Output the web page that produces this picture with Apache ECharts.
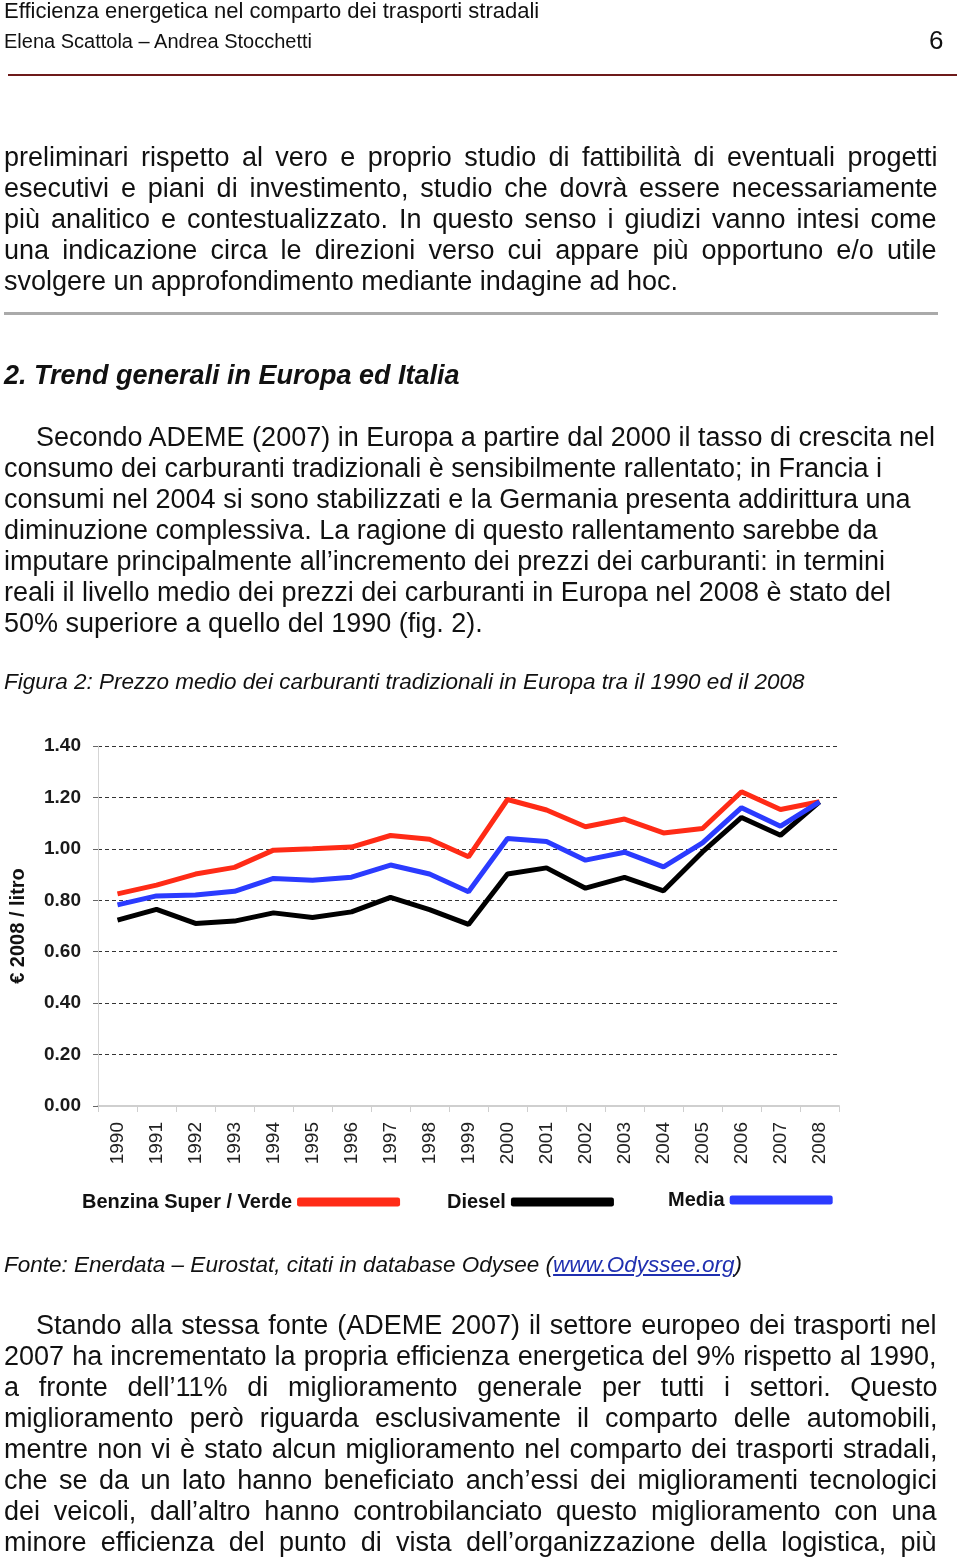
<!DOCTYPE html>
<html><head><meta charset="utf-8">
<script src="https://cdn.jsdelivr.net/npm/echarts/dist/echarts.min.js"></script>
<style>
html,body{margin:0;padding:0;background:#fff;}
#page{position:relative;width:960px;height:1560px;overflow:hidden;background:#fff;}
#chart{position:absolute;left:0;top:0;width:960px;height:1560px;z-index:1;}
.ln{position:absolute;white-space:pre;font-family:'Liberation Sans',Arial,sans-serif;color:#111;z-index:2;}
.rule{position:absolute;z-index:2;}
</style></head>
<body><div id="page"><div id="chart"></div></div>
<script>
// ---- chart data ----
const years = ['1990','1991','1992','1993','1994','1995','1996','1997','1998','1999','2000','2001','2002','2003','2004','2005','2006','2007','2008'];
const benzina = [0.825,0.859,0.902,0.928,0.995,1.000,1.007,1.052,1.037,0.969,1.192,1.151,1.086,1.116,1.062,1.079,1.222,1.153,1.183];
const diesel  = [0.723,0.765,0.710,0.719,0.751,0.733,0.755,0.811,0.764,0.706,0.902,0.926,0.847,0.889,0.837,0.988,1.122,1.053,1.183];
const media   = [0.782,0.817,0.821,0.835,0.885,0.878,0.890,0.937,0.902,0.833,1.040,1.029,0.956,0.987,0.930,1.023,1.160,1.088,1.183];
const seriesNames = ['Benzina Super / Verde','Diesel','Media'];
const yTicks = {min:0, max:1.4, interval:0.2};
const yAxisTitle = '€ 2008 / litro';

// ---- page text ----
const para1 = [
 'preliminari rispetto al vero e proprio studio di fattibilità di eventuali progetti',
 'esecutivi e piani di investimento, studio che dovrà essere necessariamente',
 'più analitico e contestualizzato. In questo senso i giudizi vanno intesi come',
 'una indicazione circa le direzioni verso cui appare più opportuno e/o utile',
 'svolgere un approfondimento mediante indagine ad hoc.'
];
const para2 = [
 'Secondo ADEME (2007) in Europa a partire dal 2000 il tasso di crescita nel',
 'consumo dei carburanti tradizionali è sensibilmente rallentato; in Francia i',
 'consumi nel 2004 si sono stabilizzati e la Germania presenta addirittura una',
 'diminuzione complessiva. La ragione di questo rallentamento sarebbe da',
 'imputare principalmente all’incremento dei prezzi dei carburanti: in termini',
 'reali il livello medio dei prezzi dei carburanti in Europa nel 2008 è stato del',
 '50% superiore a quello del 1990 (fig. 2).'
];
const para3 = [
 'Stando alla stessa fonte (ADEME 2007) il settore europeo dei trasporti nel',
 '2007 ha incrementato la propria efficienza energetica del 9% rispetto al 1990,',
 'a fronte dell’11% di miglioramento generale per tutti i settori. Questo',
 'miglioramento però riguarda esclusivamente il comparto delle automobili,',
 'mentre non vi è stato alcun miglioramento nel comparto dei trasporti stradali,',
 'che se da un lato hanno beneficiato anch’essi dei miglioramenti tecnologici',
 'dei veicoli, dall’altro hanno controbilanciato questo miglioramento con una',
 'minore efficienza del punto di vista dell’organizzazione della logistica, più'
];

const page = document.getElementById('page');
function addLine(html, x, baseline, size, o){
  o = o||{};
  const d = document.createElement('div');
  d.className='ln';
  d.innerHTML = html;
  d.style.left = x+'px';
  d.style.fontSize = size+'px';
  d.style.lineHeight = size+'px';
  d.style.top = (baseline - 0.8465*size)+'px';
  if(o.weight) d.style.fontWeight=o.weight;
  if(o.style) d.style.fontStyle=o.style;
  if(o.color) d.style.color=o.color;
  page.appendChild(d);
  if(o.justifyTo){
    const w = d.offsetWidth;
    const n = (d.textContent.match(/ /g)||[]).length;
    if(n>0){ d.style.wordSpacing = ((o.justifyTo - x - w)/n)+'px'; }
  }
  return d;
}
function addRule(x,y,w,h,c){
  const r=document.createElement('div');r.className='rule';
  r.style.cssText+=`left:${x}px;top:${y}px;width:${w}px;height:${h}px;background:${c};`;
  page.appendChild(r);
}
const BODY=27, LS=31;
addLine('Efficienza energetica nel comparto dei trasporti stradali',4,19,22);
addLine('Elena Scattola – Andrea Stocchetti',4,48,20);
addLine('6',929,49,26);
addRule(8,74,949,2,'#6e1a1a');

para1.forEach((t,i)=>addLine(t,4,167+i*LS,BODY,{justifyTo: i<para1.length-1?937:null}));
addRule(4,312,934,3,'#aaaaaa');
addLine('2. Trend generali in Europa ed Italia',4,385,BODY,{weight:'bold',style:'italic'});
para2.forEach((t,i)=>addLine(t,i===0?36:4,447+i*LS,BODY));
addLine('Figura 2: Prezzo medio dei carburanti tradizionali in Europa tra il 1990 ed il 2008',4,690,22.5,{style:'italic'});
addLine('Fonte: Enerdata – Eurostat, citati in database Odysee (<span style="color:#1f2fb0;text-decoration:underline">www.Odyssee.org</span>)',4,1273,22.5,{style:'italic'});
para3.forEach((t,i)=>addLine(t,i===0?36:4,1335+i*LS,BODY,{justifyTo:937}));

// ---- chart ----
const chart = echarts.init(document.getElementById('chart'), null, {renderer:'canvas'});
const colors = {b:'#ff2b16', d:'#000000', m:'#2b3bff'};
const legendBase = {orient:'horizontal', align:'right', padding:0, itemWidth:103, itemHeight:9, icon:'roundRect',
  textStyle:{fontFamily:'Liberation Sans, Arial', fontWeight:'bold', fontSize:20, color:'#111'}, selectedMode:false};
chart.setOption({
  animation:false,
  backgroundColor:'transparent',
  grid:{left:98, top:746, width:741, height:360, containLabel:false},
  legend:[
    Object.assign({}, legendBase, {data:[seriesNames[0]], left:82, top:1192}),
    Object.assign({}, legendBase, {data:[seriesNames[1]], left:447, top:1192}),
    Object.assign({}, legendBase, {data:[seriesNames[2]], left:668, top:1190})
  ],
  xAxis:{type:'category', data:years, boundaryGap:true,
    axisLine:{show:true, lineStyle:{color:'#cfcfcf', width:2}},
    axisTick:{show:true, length:6, lineStyle:{color:'#cfcfcf'}},
    axisLabel:{rotate:90, margin:16, fontSize:19, color:'#222', fontFamily:'Liberation Sans, Arial'},
    splitLine:{show:false}},
  yAxis:{type:'value', min:yTicks.min, max:yTicks.max, interval:yTicks.interval,
    name:yAxisTitle, nameLocation:'middle', nameRotate:90, nameGap:70,
    nameTextStyle:{fontSize:20, fontWeight:'bold', color:'#111', fontFamily:'Liberation Sans, Arial'},
    axisLine:{show:true, lineStyle:{color:'#d5d5d5'}},
    axisTick:{show:true, length:5, lineStyle:{color:'#666'}},
    axisLabel:{margin:17, fontSize:19, fontWeight:'bold', color:'#1a1a1a', fontFamily:'Liberation Sans, Arial',
      formatter:v=>v.toFixed(2)},
    splitLine:{show:true, lineStyle:{color:'#333', width:1, type:[4,3]}}},
  series:[
    {name:seriesNames[0], type:'line', data:benzina, color:colors.b, showSymbol:false, symbol:'none', lineStyle:{width:5, color:colors.b}, z:2},
    {name:seriesNames[1], type:'line', data:diesel, color:colors.d, showSymbol:false, symbol:'none', lineStyle:{width:5, color:colors.d}, z:3},
    {name:seriesNames[2], type:'line', data:media, color:colors.m, showSymbol:false, symbol:'none', lineStyle:{width:5, color:colors.m}, z:4}
  ]
});
</script></body></html>
